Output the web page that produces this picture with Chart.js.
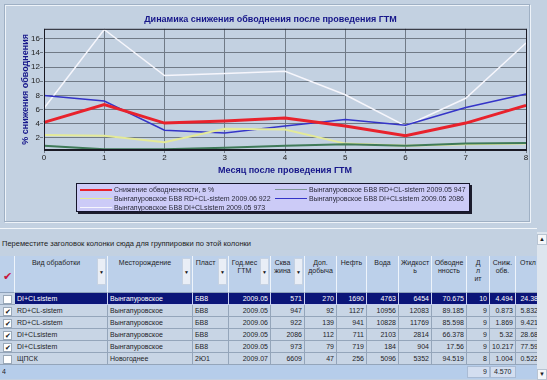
<!DOCTYPE html>
<html>
<head>
<meta charset="utf-8">
<script src="https://cdn.jsdelivr.net/npm/chart.js@4.4.0/dist/chart.umd.min.js"></script>
<style>
body { margin:0; width:547px; height:380px; overflow:hidden; background:#c3d1e1; position:relative;
       font-family:"Liberation Sans", Arial, sans-serif; color:#1e1e28; }
#panel { position:absolute; left:4px; top:4px; width:524px; height:216px; border:1px solid #9fb0c4;
         box-shadow: inset 1px 1px 0 #eef3f9, 1px 1px 0 #eef3f9; }
#wrap { position:absolute; left:0; top:0; width:547px; height:228px; }
#legend { position:absolute; left:76px; top:183px; width:392px; height:27px; background:#cccbf7;
          border:1px solid #15152a; box-shadow:2px 2px 0 #1c1c2c; }
.li { position:absolute; height:9px; font-size:7px; line-height:9px; white-space:nowrap; color:#2a2a3a; }
.li span { position:absolute; left:0; top:4px; width:32px; }
.li b { position:absolute; left:34px; top:0; font-weight:normal; }
#sep { position:absolute; left:0; top:228px; width:537px; height:1px; background:#f2f6fa; }
#group { position:absolute; left:2px; top:239px; font-size:7.5px; color:#222; white-space:nowrap; }
#grid { position:absolute; left:0; top:256px; width:537px; height:124px; overflow:hidden; }
.c { position:absolute; box-sizing:border-box; font-size:7px; white-space:nowrap; overflow:hidden; }
#sb { position:absolute; left:537px; top:232px; width:10px; height:148px; background:#dde5ee; }
#sb div { position:absolute; left:0; width:10px; height:11px; background:#f4f6f9; border:1px solid #b8c4d2;
          box-sizing:border-box; font-size:6px; text-align:center; line-height:9px; }
</style>
</head>
<body>
<div id="panel"></div>
<div id="wrap"><canvas id="chart" width="547" height="228"></canvas></div>
<div id="legend"></div>
<div id="sep"></div>
<div id="group">Переместите заголовок колонки сюда для группировки по этой колонки</div>
<div id="grid"></div>
<div id="sb"><div style="top:2px">&#9650;</div><div style="top:137px">&#9660;</div></div>
<script>
// Данные графика
const months = ['0', '1', '2', '3', '4', '5', '6', '7', '8'];
const yTicks = [2, 4, 6, 8, 10, 12, 14, 16];
const snizhenie = [4.2, 6.7, 4.1, 4.4, 4.8, 3.7, 2.3, 4.1, 6.6];
const rd947 = [0.9, 0.4, 0.4, 0.6, 0.9, 1.1, 0.9, 1.2, 1.3];
const rd922 = [2.4, 2.3, 1.4, 3.3, 3.2, 1.2, 0.9, 1.1, 1.2];
const di2086 = [8.0, 7.2, 3.1, 2.7, 3.7, 4.6, 3.8, 6.3, 8.2];
const di973 = [6.2, 17.3, 10.8, 11.1, 11.4, 8.1, 3.7, 7.6, 15.4];
const seriesNames = [
    'Снижение обводненности, в %',
    'Вынгапуровское БВ8 RD+CL-sistem 2009.05 947',
    'Вынгапуровское БВ8 RD+CL-sistem 2009.06 922',
    'Вынгапуровское БВ8 DI+CLsistem 2009.05 2086',
    'Вынгапуровское БВ8 DI+CLsistem 2009.05 973'
];

// Данные таблицы
const headers = ['', 'Вид обработки', 'Месторождение', 'Пласт', 'Год.мес<br>ГТМ', 'Сква<br>жина', 'Доп.<br>добыча',
    'Нефть', 'Вода', 'Жидкост<br>ь', 'Обводне<br>нность', 'Д<br>л<br>ит', 'Сниж.<br>обв.', 'Откл'];
const rows = [
    [false, 'DI+CLsistem', 'Вынгапуровское', 'БВ8', '2009.05', '571', '270', '1690', '4763', '6454', '70.675', '10', '4.494', '24.38'],
    [true, 'RD+CL-sistem', 'Вынгапуровское', 'БВ8', '2009.05', '947', '92', '1127', '10956', '12083', '89.185', '9', '0.873', '5.832'],
    [true, 'RD+CL-sistem', 'Вынгапуровское', 'БВ8', '2009.06', '922', '139', '941', '10828', '11769', '85.598', '9', '1.869', '9.421'],
    [true, 'DI+CLsistem', 'Вынгапуровское', 'БВ8', '2009.05', '2086', '112', '711', '2103', '2814', '66.378', '9', '5.32', '28.68'],
    [true, 'DI+CLsistem', 'Вынгапуровское', 'БВ8', '2009.05', '973', '79', '719', '184', '904', '17.56', '9', '10.217', '77.59'],
    [false, 'ЩПСК', 'Новогоднее', '2Ю1', '2009.07', '6609', '47', '256', '5096', '5352', '94.519', '8', '1.004', '0.522']
];
const itogo = { count: '4', dlit: '9', snizh: '4.570' };

// Рамка вокруг области построения
const frame = {
    id: 'frame',
    afterDraw(chart) {
        const { ctx, chartArea: a } = chart;
        ctx.save();
        ctx.strokeStyle = '#1a1a24';
        ctx.lineWidth = 1;
        ctx.strokeRect(a.left + 0.5, a.top + 0.5, a.right - a.left, a.bottom - a.top);
        ctx.lineWidth = 2;
        ctx.beginPath();
        ctx.moveTo(a.left, a.bottom);
        ctx.lineTo(a.right, a.bottom);
        ctx.stroke();
        ctx.restore();
    }
};

const navy = '#16168a';
const chart = new Chart(document.getElementById('chart'), {
    type: 'line',
    data: {
        labels: months,
        datasets: [
            { label: seriesNames[0], data: snizhenie, borderColor: '#e8222c', borderWidth: 3 },
            { label: seriesNames[1], data: rd947, borderColor: '#3f7a58', borderWidth: 2, legendColor: '#7f9696' },
            { label: seriesNames[2], data: rd922, borderColor: '#e4ea98', borderWidth: 2 },
            { label: seriesNames[3], data: di2086, borderColor: '#3434c8', borderWidth: 1.5 },
            { label: seriesNames[4], data: di973, borderColor: '#f6f6fc', borderWidth: 1.5 }
        ]
    },
    options: {
        responsive: false,
        animation: false,
        devicePixelRatio: 1,
        elements: { point: { radius: 0 }, line: { tension: 0 } },
        layout: { padding: { left: 15, right: 21, top: 4, bottom: 48 } },
        plugins: {
            legend: { display: false },
            tooltip: { enabled: false },
            title: {
                display: true,
                text: 'Динамика снижения обводнения после проведения ГТМ',
                color: navy,
                font: { family: 'Liberation Sans', size: 9, weight: 'bold' },
                padding: { top: 10, bottom: 4 }
            }
        },
        scales: {
            x: {
                offset: false,
                border: { display: false },
                grid: { color: '#707a86', tickLength: 3, borderDash: [3, 2], tickBorderDash: [3, 2] },
                ticks: { color: '#222', padding: 0, maxRotation: 0, font: { family: 'Liberation Sans', size: 8 } },
                title: { display: true, text: 'Месяц после проведения ГТМ', color: navy, padding: { top: 2, bottom: 4 },
                    font: { family: 'Liberation Sans', size: 9, weight: 'bold' } },
                afterFit: s => { s.height = 30; }
            },
            y: {
                min: 0.3,
                max: 17.4,
                border: { display: false },
                grid: { color: '#707a86', tickLength: 4, borderDash: [3, 2], tickBorderDash: [3, 2] },
                ticks: { color: '#222', padding: 0, font: { family: 'Liberation Sans', size: 8 } },
                afterBuildTicks: s => { s.ticks = yTicks.map(v => ({ value: v })); },
                title: { display: true, text: '% снижения обводнения', color: navy, padding: { top: 5, bottom: 2 },
                    font: { family: 'Liberation Sans', size: 9, weight: 'bold' } },
                afterFit: s => { s.width = 29; }
            }
        }
    },
    plugins: [frame]
});

// Легенда в две колонки
const legend = document.getElementById('legend');
const legendPos = [[3, 3], [198, 3], [3, 12], [198, 12], [3, 21]];
chart.data.datasets.forEach((ds, i) => {
    const item = document.createElement('div');
    item.className = 'li';
    item.style.left = legendPos[i][0] + 'px';
    item.style.top = (legendPos[i][1] - 2) + 'px';
    const h = i === 0 ? 2 : 1;
    item.innerHTML = `<span style="height:${h}px;background:${ds.legendColor || ds.borderColor}"></span><b>${ds.label}</b>`;
    legend.appendChild(item);
});

// Таблица
const grid = document.getElementById('grid');
const colX = [0, 15, 108, 193, 229, 271, 305, 337, 367, 399, 432, 467, 490, 516, 541];
const numeric = [4, 5, 6, 7, 8, 9, 10, 11, 12, 13];
const buttons = [1, 2, 3, 4, 5];

function cell(x, y, w, h, html, css) {
    const d = document.createElement('div');
    d.className = 'c';
    d.style.cssText = `left:${x}px;top:${y}px;width:${w}px;height:${h}px;` + (css || '');
    d.innerHTML = html;
    grid.appendChild(d);
    return d;
}

// заголовок
headers.forEach((t, i) => {
    const x = colX[i], w = colX[i + 1] - colX[i];
    cell(x, 0, w, 37, i === 0 ? '' : t,
        'background:#bcd0ea;border-right:1px solid #eef4fb;border-bottom:1px solid #8ea2bb;' +
        'text-align:center;padding-top:3px;line-height:8px;color:#1e1e28;' + (buttons.includes(i) ? 'padding-right:10px;' : ''));
    if (buttons.includes(i)) {
        cell(x + w - 11, 2, 9, 27, '&#9660;',
            'background:#e9eef6;border:1px solid #c6d2e2;font-size:5px;text-align:center;line-height:27px;color:#111;');
    }
});
cell(3, 14, 12, 12, '&#10004;', 'color:#c8163e;font-size:11px;line-height:12px;');

// строки
rows.forEach((r, ri) => {
    const y = 37 + ri * 12;
    const sel = ri === 0;
    r.forEach((v, ci) => {
        const x = colX[ci], w = colX[ci + 1] - colX[ci];
        if (ci === 0) {
            cell(x, y, w, 12, '', 'background:#c8d5e5;border-bottom:1px solid #94a5ba;');
            cell(3, y + 2, 9, 9, v ? '&#10004;' : '',
                'background:#fff;border:1px solid #9aa8b8;font-size:7px;line-height:8px;text-align:center;color:#111;');
            return;
        }
        const css = (sel ? 'background:#0b1578;color:#fff;border-right:1px solid #c8d0f0;border-bottom:1px solid #c8d0f0;'
                         : 'background:#c8d5e5;color:#1e1e28;border-right:1px solid #94a5ba;border-bottom:1px solid #94a5ba;') +
            'line-height:11px;padding:0 2px;' + (numeric.includes(ci) ? 'text-align:right;' : 'text-align:left;');
        cell(x, y, w, 12, v, css);
    });
});

// итоговая строка
const fy = 37 + rows.length * 12;
cell(0, fy, 537, 14, '', 'background:#b6cdea;');
cell(2, fy, 12, 14, itogo.count, 'line-height:14px;');
cell(colX[11], fy + 1, colX[12] - colX[11], 12, itogo.dlit,
    'background:#d3def0;border:1px solid #a9bbd4;text-align:right;padding-right:2px;line-height:10px;');
cell(colX[12], fy + 1, colX[13] - colX[12], 12, itogo.snizh,
    'background:#d3def0;border:1px solid #a9bbd4;text-align:left;padding-left:3px;line-height:10px;');
</script>
</body>
</html>
